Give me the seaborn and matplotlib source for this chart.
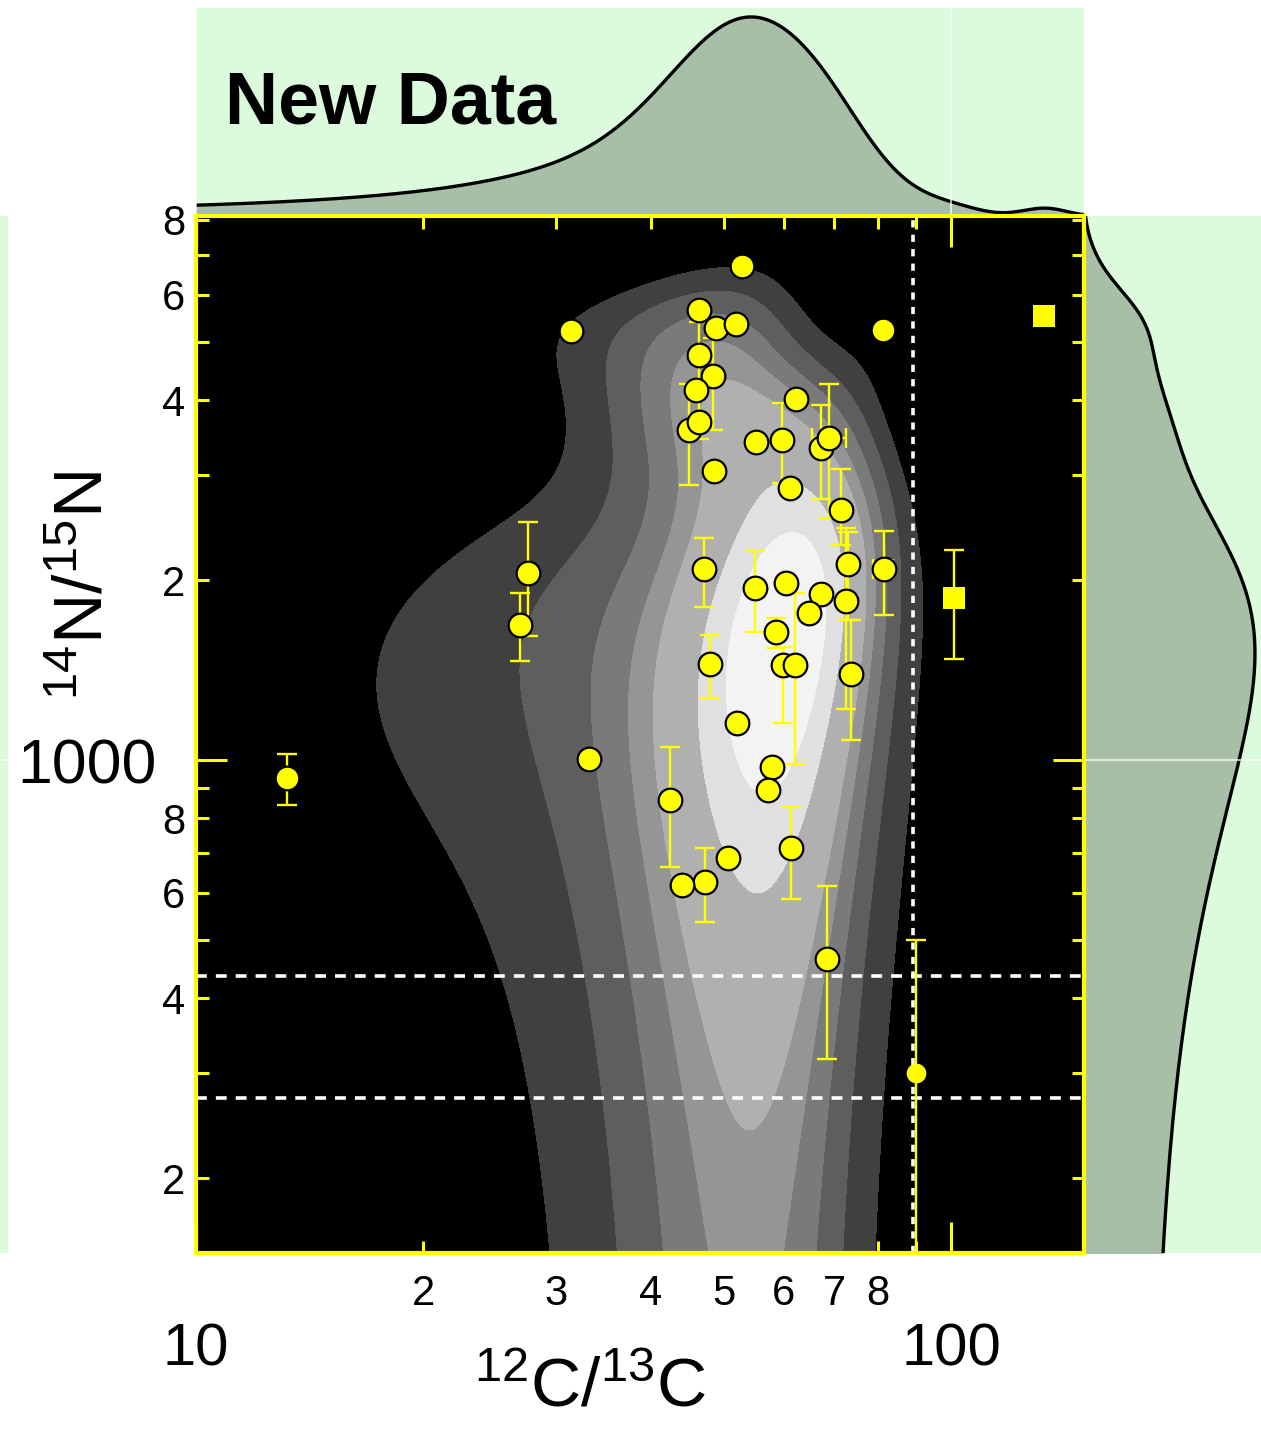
import numpy as np
import pandas as pd
import matplotlib
matplotlib.use("Agg")
import matplotlib.pyplot as plt
from matplotlib.colors import ListedColormap
from matplotlib.ticker import FixedLocator, FuncFormatter, NullLocator
import seaborn as sns

# ---- grain measurements: 12C/13C and 14N/15N ----
# circles with vertical error bars (value, lower bound, upper bound)
err_c = [13.2, 27.5, 26.9, 42.5, 47.2, 47.9, 47.1, 55.0, 72.6, 73.0, 81.5, 73.6,
         58.6, 59.9, 62.2, 71.5, 67.2, 69.0, 59.7, 45.0, 48.4, 46.4, 61.4, 68.4]
err_n = [933, 2055, 1682, 858, 626, 1447, 2086, 1940, 1845, 2131, 2084, 1396,
         1635, 1440, 1443, 2622, 3325, 3455, 3425, 3567, 4392, 4752, 712, 466]
err_n_lo = [841, 1612, 1464, 664, 537, 1270, 1806, 1637, 1217, 1714, 1748, 1080,
            1541, 1152, 985, 2288, 2733, 2540, 2909, 2884, 3563, 3446, 586, 317]
err_n_hi = [1023, 2500, 1902, 1051, 712, 1618, 2355, 2236, 2444, 2410, 2415, 1714,
            1726, 1547, 1905, 3067, 3928, 4249, 3950, 4254, 5078, 5400, 836, 615]

# circles with horizontal error bars (12C/13C range)
xerr_c = [69.0, 81.5]
xerr_n = [3455, 2084]
xerr_c_lo = [65.4, 78.8]
xerr_c_hi = [72.5, 83.8]

# circles without error bars
pt_c = [31.4, 33.2, 44.0, 50.7, 52.1, 60.4, 67.2, 64.9, 61.2, 62.4, 55.2, 48.5,
        46.4, 45.9, 48.8, 51.9, 46.4, 52.8, 81.2, 58.0, 57.3]
pt_n = [5213, 1004, 618, 686, 1153, 1981, 1895, 1759, 2853, 4011, 3399, 3043,
        3675, 4156, 5272, 5359, 5649, 6708, 5240, 973, 891]

# grain near the solar carbon ratio
sol_c = [89.8]
sol_n = [300]
sol_n_lo = [100]
sol_n_hi = [500]

# squares
sq_c = [132.9, 100.8]
sq_n = [5526, 1864]
sq_n_lo = [5526, 1479]
sq_n_hi = [5526, 2250]

# reference ratios
solar_c = 89
planet_n = [435, 272]

# axis ticks
x_minor_ticks = [20, 30, 40, 50, 60, 70, 80, 90]
x_minor_labels = {20: "2", 30: "3", 40: "4", 50: "5", 60: "6", 70: "7", 80: "8"}
y_minor_ticks = [200, 300, 400, 500, 600, 700, 800, 900,
                 2000, 3000, 4000, 5000, 6000, 7000, 8000]
y_minor_labels = {200: "2", 400: "4", 600: "6", 800: "8",
                  2000: "2", 4000: "4", 6000: "6", 8000: "8"}

YELLOW = "#ffff00"
PANEL = "#dcfadc"
FILLGREEN = "#a6bfa6"

sns.set_theme(style="white")
plt.rcParams["font.family"] = ["Liberation Sans", "DejaVu Sans"]
plt.rcParams["mathtext.default"] = "regular"
plt.rcParams["text.color"] = "black"
plt.rcParams["axes.labelcolor"] = "black"

circ_c = np.array(err_c + pt_c + sol_c)
circ_n = np.array(err_n + pt_n + sol_n)
all_c = np.concatenate([circ_c, sq_c])
all_n = np.concatenate([circ_n, sq_n])
df_kde = pd.DataFrame({"c_ratio": all_c, "n_ratio": all_n})

W, H = 1261, 1440
fig = plt.figure(figsize=(W / 100, H / 100), dpi=100, facecolor="white")


def frame(x0, y0, x1, y1):
    return [x0 / W, 1 - y1 / H, (x1 - x0) / W, (y1 - y0) / H]


ax_top = fig.add_axes(frame(196, 8, 1084, 216))
ax_right = fig.add_axes(frame(1084, 216, 1261, 1253))
ax_left = fig.add_axes(frame(0, 216, 8, 1253))
ax = fig.add_axes(frame(196, 216, 1084, 1253))

XLIM = (10, 150)
YLIM = (150, 8124)
CLIP_X = (8, 170)
CLIP_Y = (130, 9000)

# ---- main panel: density in linear ratio space, shown on log axes ----
ax.set_facecolor("black")
grays = ["#404040", "#5e5e5e", "#7a7a7a", "#959595", "#b0b0b0",
         "#cacaca", "#e0e0e0", "#f3f3f3"]
sns.kdeplot(data=df_kde, x="c_ratio", y="n_ratio", fill=True, levels=9,
            thresh=0.17, cmap=ListedColormap(grays), bw_adjust=1.0,
            gridsize=400, clip=(CLIP_X, CLIP_Y), log_scale=False,
            ax=ax, zorder=1, antialiased=False)
ax.set_xscale("log")
ax.set_yscale("log")

ax.axvline(solar_c, color="white", lw=2.6, ls=(0, (2, 2)), zorder=2)
for v in planet_n:
    ax.axhline(v, color="white", lw=2.6, ls=(0, (3, 2.5)), zorder=2)

ebar = dict(fmt="none", ecolor=YELLOW, elinewidth=1.7, capsize=7,
            capthick=1.7, zorder=3)
e_c = np.array(err_c)
e_n = np.array(err_n)
ax.errorbar(e_c, e_n, yerr=[e_n - np.array(err_n_lo), np.array(err_n_hi) - e_n], **ebar)
x_c = np.array(xerr_c)
ax.errorbar(x_c, xerr_n, xerr=[x_c - np.array(xerr_c_lo), np.array(xerr_c_hi) - x_c], **ebar)
s_n = np.array(sol_n)
ax.errorbar(sol_c, sol_n, yerr=[s_n - np.array(sol_n_lo), np.array(sol_n_hi) - s_n], **ebar)
q_n = np.array(sq_n)
ax.errorbar(sq_c, sq_n, yerr=[q_n - np.array(sq_n_lo), np.array(sq_n_hi) - q_n], **ebar)

df_circ = pd.DataFrame({"c": err_c + pt_c, "n": err_n + pt_n})
sns.scatterplot(data=df_circ, x="c", y="n", marker="o", s=290, color=YELLOW,
                edgecolor="black", linewidth=1.6, ax=ax, zorder=4, legend=False)
sns.scatterplot(x=sol_c, y=sol_n, marker="o", s=200, color=YELLOW,
                linewidth=0, ax=ax, zorder=4, legend=False)
sns.scatterplot(x=sq_c, y=sq_n, marker="s", s=230, color=YELLOW,
                linewidth=0, ax=ax, zorder=4, legend=False)

ax.set_xlim(*XLIM)
ax.set_ylim(*YLIM)
ax.xaxis.set_major_locator(FixedLocator([10, 100]))
ax.xaxis.set_minor_locator(FixedLocator(x_minor_ticks))
ax.xaxis.set_major_formatter(FuncFormatter(lambda v, p: f"{v:g}"))
ax.xaxis.set_minor_formatter(FuncFormatter(lambda v, p: x_minor_labels.get(int(round(v)), "")))
ax.yaxis.set_major_locator(FixedLocator([1000]))
ax.yaxis.set_minor_locator(FixedLocator(y_minor_ticks))
ax.yaxis.set_major_formatter(FuncFormatter(lambda v, p: f"{v:g}"))
ax.yaxis.set_minor_formatter(FuncFormatter(lambda v, p: y_minor_labels.get(int(round(v)), "")))

ax.tick_params(which="both", direction="in", color=YELLOW, width=2.2,
               bottom=True, left=True, top=True, right=True, labelcolor="black")
ax.tick_params(axis="x", which="major", length=22, labelsize=43, pad=50)
ax.tick_params(axis="x", which="minor", length=9, labelsize=30, pad=15)
ax.tick_params(axis="y", which="major", length=22, labelsize=45, pad=28)
ax.tick_params(axis="y", which="minor", length=9, labelsize=30, pad=8)
for sp in ax.spines.values():
    sp.set_color(YELLOW)
    sp.set_linewidth(3)
    sp.set_visible(True)
    sp.set_zorder(5)

label_font = ["Liberation Sans Narrow", "Liberation Sans", "DejaVu Sans"]
ax.set_xlabel(r"$^{12}$C/$^{13}$C", fontsize=50, family=label_font)
ax.xaxis.set_label_coords(0.444, -0.100)
ax.set_ylabel(r"$^{14}$N/$^{15}$N", fontsize=50, family=label_font)
ax.yaxis.set_label_coords(-0.090, 0.644)

# ---- top marginal: 12C/13C density ----
ax_top.set_facecolor(PANEL)
sns.kdeplot(x=all_c, log_scale=False, fill=True, color=FILLGREEN, alpha=1,
            linewidth=0, gridsize=600, clip=CLIP_X, ax=ax_top)
sns.kdeplot(x=all_c, log_scale=False, color="black", linewidth=2.4,
            gridsize=600, clip=CLIP_X, ax=ax_top)
ax_top.set_xscale("log")
ax_top.set_xlim(*XLIM)
peak = ax_top.lines[-1].get_ydata().max()
ax_top.set_ylim(0, peak / 0.957)
ax_top.xaxis.set_major_locator(FixedLocator([10, 100]))
ax_top.xaxis.set_minor_locator(NullLocator())
ax_top.grid(axis="x", which="major", color="white", lw=1.2, alpha=0.8)
ax_top.set_axisbelow(False)
ax_top.tick_params(left=False, bottom=False, labelleft=False, labelbottom=False)
ax_top.set_xlabel("")
ax_top.set_ylabel("")
for sp in ax_top.spines.values():
    sp.set_visible(False)
ax_top.text(0.033, 0.447, "New Data", transform=ax_top.transAxes, color="black",
            fontsize=53, fontweight="bold", ha="left", va="baseline")

# ---- right marginal: 14N/15N density ----
ax_right.set_facecolor(PANEL)
sns.kdeplot(y=all_n, log_scale=False, fill=True, color=FILLGREEN, alpha=1,
            linewidth=0, gridsize=600, clip=CLIP_Y, ax=ax_right)
sns.kdeplot(y=all_n, log_scale=False, color="black", linewidth=2.4,
            gridsize=600, clip=CLIP_Y, ax=ax_right)
ax_right.set_yscale("log")
ax_right.set_ylim(*YLIM)
peak_r = ax_right.lines[-1].get_xdata().max()
ax_right.set_xlim(0, peak_r / 0.966)
ax_right.yaxis.set_major_locator(FixedLocator([1000]))
ax_right.yaxis.set_minor_locator(NullLocator())
ax_right.grid(axis="y", which="major", color="white", lw=1.2, alpha=0.8)
ax_right.set_axisbelow(False)
ax_right.tick_params(left=False, bottom=False, labelleft=False, labelbottom=False)
ax_right.set_xlabel("")
ax_right.set_ylabel("")
for sp in ax_right.spines.values():
    sp.set_visible(False)

# ---- narrow strip on the left edge ----
ax_left.set_facecolor(PANEL)
ax_left.set_yscale("log")
ax_left.set_ylim(*YLIM)
ax_left.yaxis.set_major_locator(FixedLocator([1000]))
ax_left.yaxis.set_minor_locator(NullLocator())
ax_left.grid(axis="y", which="major", color="white", lw=1.2, alpha=0.8)
ax_left.tick_params(left=False, bottom=False, labelleft=False, labelbottom=False)
for sp in ax_left.spines.values():
    sp.set_visible(False)

fig.savefig("out.png", dpi=100, facecolor="white")
